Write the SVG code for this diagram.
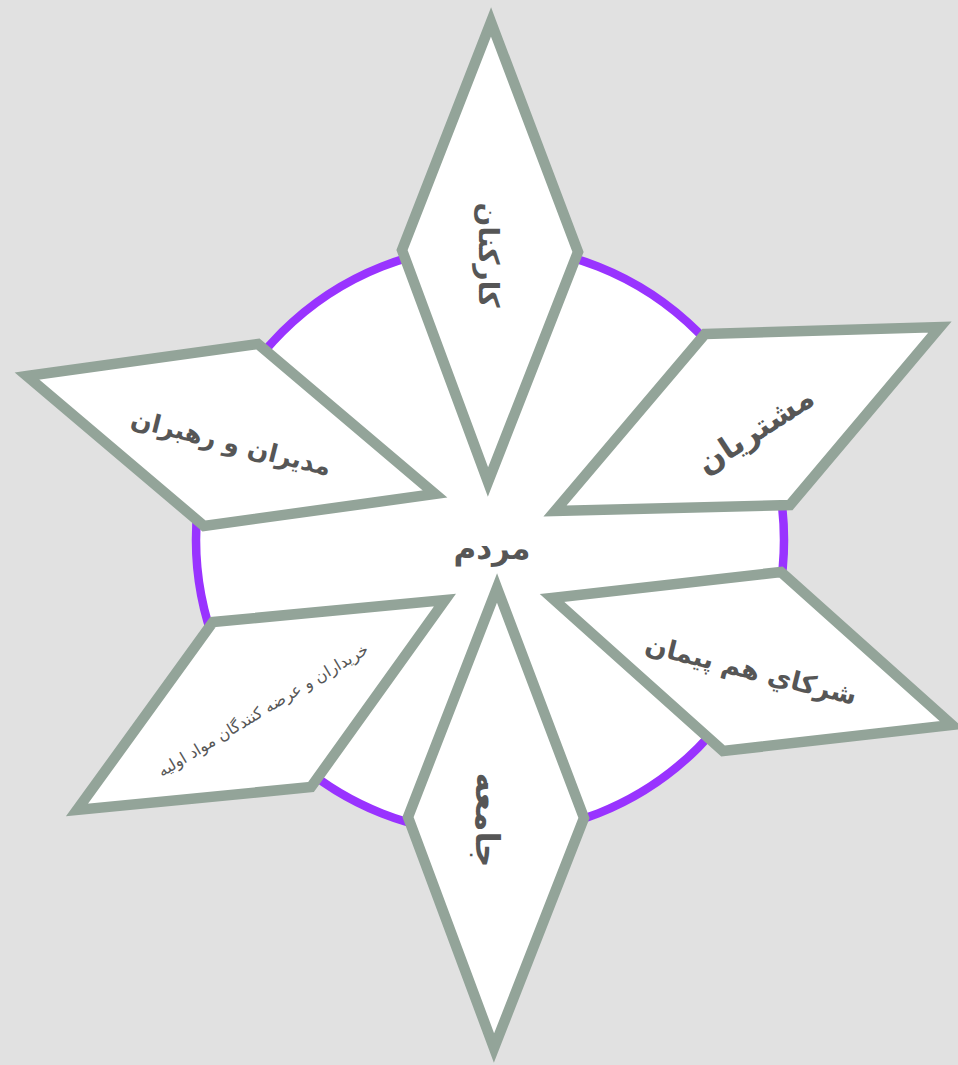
<svg xmlns="http://www.w3.org/2000/svg" width="958" height="1065" viewBox="0 0 958 1065">
<style>
.shape{fill:#ffffff;stroke:#93a499;stroke-width:10.5;stroke-linejoin:miter;stroke-miterlimit:20}
.lbl{font-family:"DejaVu Sans",sans-serif;fill:#565656;text-anchor:middle;dominant-baseline:central}
</style>
<rect x="0" y="0" width="958" height="1065" fill="#e1e1e1"/>
<g id="center">
<circle cx="490" cy="540" r="294" fill="#ffffff" stroke="#9933ff" stroke-width="8.5"/>
<text class="lbl" x="492" y="548" font-size="31" font-weight="bold">مردم</text>
</g>
<g id="connectors"></g>
<g id="node-top">
<polygon class="shape" points="491,22 578,252 488,482 402,250"/>
<text class="lbl" transform="translate(488,255) rotate(90)" font-size="28" font-weight="bold">کارکنان</text>
</g>
<g id="node-bottom">
<polygon class="shape" points="497,588 584,818 494,1048 408,817"/>
<text class="lbl" transform="translate(487,820) rotate(90)" font-size="33" font-weight="bold">جامعه</text>
</g>
<g id="node-right-upper">
<polygon class="shape" points="705,334 940,327 790,505 555,511"/>
<text class="lbl" transform="translate(755,430) rotate(-33)" font-size="31" font-weight="bold">مشتریان</text>
</g>
<g id="node-left-upper">
<polygon class="shape" points="27,376 258,344 435,494 204,526"/>
<text class="lbl" transform="translate(231,443) rotate(14)" font-size="25" font-weight="bold">مدیران و رهبران</text>
</g>
<g id="node-right-lower">
<polygon class="shape" points="552,598 781,572 952,725 723,751"/>
<text class="lbl" transform="translate(751,670) rotate(14)" font-size="26" font-weight="bold">شرکاي هم پیمان</text>
</g>
<g id="node-left-lower">
<polygon class="shape" points="213,622 445,600 311,787 77,810"/>
<text class="lbl" transform="translate(263,710) rotate(-31)" font-size="16">خریداران و عرضه کنندگان مواد اولیه</text>
</g>
</svg>
